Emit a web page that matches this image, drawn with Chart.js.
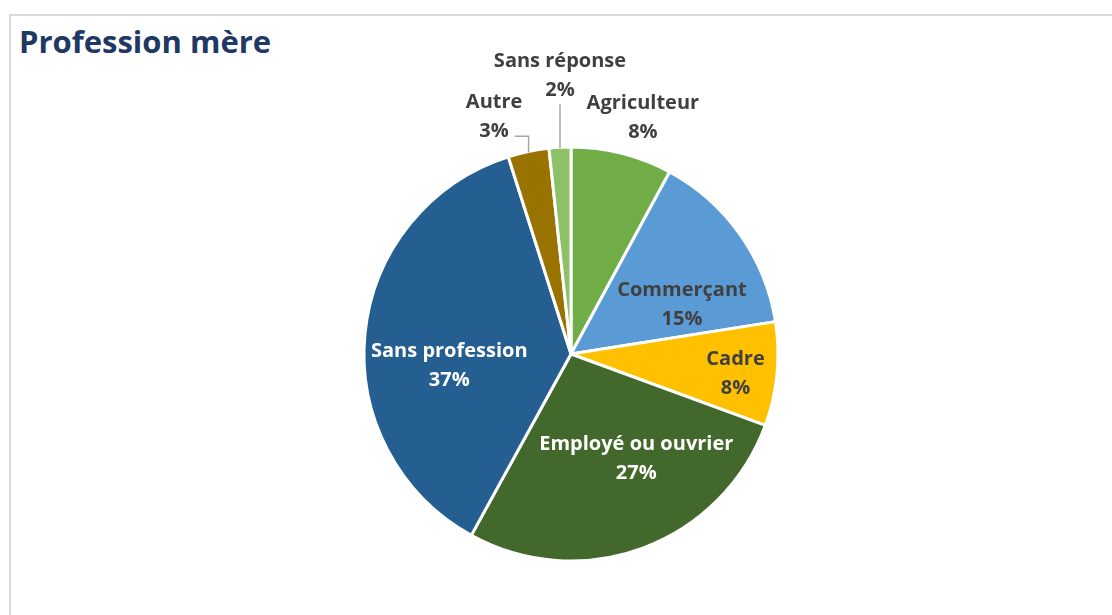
<!DOCTYPE html>
<html>
<head>
<meta charset="utf-8">
<script src="https://cdn.jsdelivr.net/npm/chart.js@4"></script>
<style>
  html, body { margin: 0; padding: 0; background: #fff; }
  #wrap { position: relative; width: 1112px; height: 615px; overflow: hidden; }
  #frame { position: absolute; left: 9px; top: 14px; width: 1130px; height: 700px; border: 2px solid #d9d9d9; }
  #title { position: absolute; left: 19px; top: 26px; margin: 0; font: bold 31px "Open Sans"; line-height: 31px; color: #203864; white-space: nowrap; }
  canvas { position: absolute; left: 0; top: 0; }
</style>
</head>
<body>
<div id="wrap">
  <div id="frame"></div>
  <h1 id="title">Profession mère</h1>
  <canvas id="pie" width="1112" height="615"></canvas>
</div>
<script>
// data (shares in %)
const categories = ['Agriculteur', 'Commerçant', 'Cadre', 'Employé ou ouvrier', 'Sans profession', 'Autre', 'Sans réponse'];
const shares = [7.9, 14.6, 8.1, 27.4, 37.1, 3.2, 1.7];

const sliceColors = ['#70ad47', '#5b9bd5', '#ffc000', '#43682b', '#255e91', '#997300', '#8cc168'];

// where each label sits: r = fraction of radius, da = degrees shifted from the slice middle
const labelPlace = [
  { r: 1.20, da: 2.6, color: '#404040' },
  { r: 0.59, da: 10.6, color: '#404040' },
  { r: 0.80, da: 1.0, color: '#404040' },
  { r: 0.59, da: -11.8, color: '#ffffff' },
  { r: 0.59, da: -10.3, color: '#ffffff' },
  { r: 1.21, da: -6.0, color: '#404040', leader: 'elbow' },
  { r: 1.35, da: 0.8, color: '#404040', leader: 'up' }
];

const pieLabels = {
  id: 'pieLabels',
  afterDatasetsDraw(chart) {
    const ctx = chart.ctx;
    const meta = chart.getDatasetMeta(0);
    const vals = chart.data.datasets[0].data;
    const total = vals.reduce((a, b) => a + b, 0);
    const lineGap = 29;
    ctx.save();
    ctx.font = 'bold 20px "Open Sans"';
    ctx.textAlign = 'center';
    ctx.textBaseline = 'alphabetic';
    meta.data.forEach((arc, i) => {
      const p = arc.getProps(['x', 'y', 'startAngle', 'endAngle', 'outerRadius'], true);
      const pl = labelPlace[i];
      const mid = (p.startAngle + p.endAngle) / 2;
      const a = mid + pl.da * Math.PI / 180;
      const R = p.outerRadius;
      const cx = p.x + Math.cos(a) * R * pl.r;
      const cy = p.y + Math.sin(a) * R * pl.r;
      const top = chart.data.labels[i];
      const pct = Math.round(vals[i] / total * 100) + '%';
      const y1 = cy - lineGap / 2;
      const y2 = cy + lineGap / 2;

      if (pl.leader) {
        const ax = p.x + Math.cos(mid) * (R - 1);
        const ay = p.y + Math.sin(mid) * (R - 1);
        ctx.strokeStyle = '#a6a6a6';
        ctx.lineWidth = 1.5;
        ctx.beginPath();
        ctx.moveTo(ax, ay);
        if (pl.leader === 'up') {
          ctx.lineTo(ax, y2 + 15);
        } else {
          const ly = y2 + 6;
          ctx.lineTo(ax, ly);
          ctx.lineTo(cx + ctx.measureText(pct).width / 2 + 6, ly);
        }
        ctx.stroke();
      }

      ctx.fillStyle = pl.color;
      ctx.fillText(top, cx, y1 + 7);
      ctx.fillText(pct, cx, y2 + 7);
    });
    ctx.restore();
  }
};

Chart.defaults.font.family = '"Open Sans"';

new Chart(document.getElementById('pie'), {
  type: 'pie',
  data: {
    labels: categories,
    datasets: [{
      data: shares,
      backgroundColor: sliceColors,
      borderColor: '#ffffff',
      borderWidth: 3,
      hoverOffset: 0
    }]
  },
  options: {
    responsive: false,
    animation: false,
    radius: 207,
    layout: { padding: { left: 30, right: 0, top: 100, bottom: 7 } },
    plugins: {
      legend: { display: false },
      tooltip: { enabled: false }
    },
    events: []
  },
  plugins: [pieLabels]
});
</script>
</body>
</html>
